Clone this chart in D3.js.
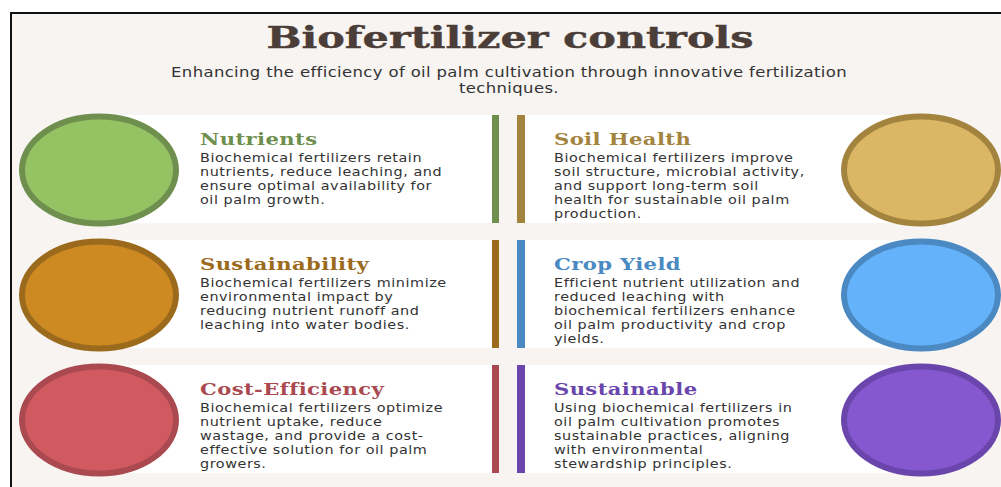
<!DOCTYPE html>
<html>
<head>
<meta charset="utf-8">
<script src="https://cdn.jsdelivr.net/npm/d3@7"></script>
<style>
  body { margin: 0; background: #fff; }
</style>
</head>
<body>
<div id="chart-area"></div>
<script>
// Biofertilizer controls - six cards, two columns

var titles = ["Nutrients", "Soil Health", "Sustainability", "Crop Yield", "Cost-Efficiency", "Sustainable"];
var descriptions = [
    ["Biochemical fertilizers retain", "nutrients, reduce leaching, and", "ensure optimal availability for", "oil palm growth."],
    ["Biochemical fertilizers improve", "soil structure, microbial activity,", "and support long-term soil", "health for sustainable oil palm", "production."],
    ["Biochemical fertilizers minimize", "environmental impact by", "reducing nutrient runoff and", "leaching into water bodies."],
    ["Efficient nutrient utilization and", "reduced leaching with", "biochemical fertilizers enhance", "oil palm productivity and crop", "yields."],
    ["Biochemical fertilizers optimize", "nutrient uptake, reduce", "wastage, and provide a cost-", "effective solution for oil palm", "growers."],
    ["Using biochemical fertilizers in", "oil palm cultivation promotes", "sustainable practices, aligning", "with environmental", "stewardship principles."]
];
var fills = ["#95c263", "#dbb665", "#cd8922", "#63b2fa", "#d05a60", "#8558d0"];
var accents = ["#6e8f4e", "#a3843f", "#9b6a1d", "#4a89c2", "#aa4a50", "#6a46ac"];
var rows = [0, 1, 2];
var sides = ["left", "right"];

var title = "Biofertilizer controls";
var subtitle = ["Enhancing the efficiency of oil palm cultivation through innovative fertilization", "techniques."];

var width = 1001;
var height = 487;

var svg = d3.select("#chart-area")
    .append("svg")
        .attr("width", width)
        .attr("height", height);

// panel
svg.append("rect")
    .attr("x", 11)
    .attr("y", 13)
    .attr("width", 1010)
    .attr("height", 490)
    .attr("fill", "#f7f4f1")
    .attr("stroke", "#111")
    .attr("stroke-width", 2);

// fonts here are narrower than the original ones, so stretch them sideways
svg.append("text")
    .attr("transform", "translate(510,48) scale(1.38,1)")
    .attr("text-anchor", "middle")
    .attr("font-family", "'DejaVu Serif', serif")
    .attr("font-weight", 700)
    .attr("font-size", 30)
    .attr("stroke", "#4b3d38")
    .attr("stroke-width", 0.4)
    .attr("fill", "#4b3d38")
    .text(title);

svg.selectAll(".subtitle")
    .data(subtitle)
    .enter()
    .append("text")
        .attr("class", "subtitle")
        .attr("transform", (d, i) => "translate(509," + (77 + i * 16) + ") scale(1.22,1)")
        .attr("text-anchor", "middle")
        .attr("font-family", "'DejaVu Sans', sans-serif")
        .attr("font-size", 13.5)
        .attr("letter-spacing", 0.3)
        .attr("fill", "#333")
        .text(d => d);

var yScale = d3.scaleBand()
    .domain(rows)
    .range([115, 473])
    .paddingInner(0.136)
    .paddingOuter(0);

// column anchors: circle centre, accent bar, text start
var circleX = d3.scaleOrdinal().domain(sides).range([99, 921]);
var barX = d3.scaleOrdinal().domain(sides).range([492, 517]);
var textX = d3.scaleOrdinal().domain(sides).range([200, 554]);

var cards = titles.map((t, i) => {
    return {
        title: t,
        lines: descriptions[i],
        fill: fills[i],
        accent: accents[i],
        row: Math.floor(i / 2),
        side: sides[i % 2]
    };
});

var card = svg.selectAll(".card")
    .data(cards)
    .enter()
    .append("g")
        .attr("class", "card");

// white band
card.append("rect")
    .attr("x", d => d.side == "left" ? circleX(d.side) : barX(d.side) + 8)
    .attr("y", d => yScale(d.row))
    .attr("width", d => d.side == "left" ? barX(d.side) - circleX(d.side) : circleX(d.side) - barX(d.side) - 8)
    .attr("height", yScale.bandwidth())
    .attr("fill", "#fff");

card.append("rect")
    .attr("x", d => barX(d.side))
    .attr("y", d => yScale(d.row))
    .attr("width", d => d.side == "left" ? 7 : 8)
    .attr("height", yScale.bandwidth())
    .attr("fill", d => d.accent);

card.append("ellipse")
    .attr("cx", d => circleX(d.side))
    .attr("cy", d => yScale(d.row) + yScale.bandwidth() / 2 + 1)
    .attr("rx", 77)
    .attr("ry", 53.5)
    .attr("fill", d => d.fill)
    .attr("stroke", d => d.accent)
    .attr("stroke-width", 6);

card.append("text")
    .attr("transform", d => "translate(" + textX(d.side) + "," + (yScale(d.row) + 30) + ") scale(1.32,1)")
    .attr("font-family", "'DejaVu Serif', serif")
    .attr("font-weight", 700)
    .attr("font-size", 16)
    .attr("letter-spacing", 0.3)
    .attr("fill", d => d.accent)
    .text(d => d.title);

card.each(function(d) {
    d3.select(this).selectAll(".line")
        .data(d.lines)
        .enter()
        .append("text")
            .attr("class", "line")
            .attr("transform", (l, j) => "translate(" + textX(d.side) + "," + (yScale(d.row) + 47 + j * 14) + ") scale(1.2,1)")
            .attr("font-family", "'DejaVu Sans', sans-serif")
            .attr("font-size", 12)
            .attr("letter-spacing", 0.45)
            .attr("fill", "#333")
            .text(l => l);
});
</script>
</body>
</html>
